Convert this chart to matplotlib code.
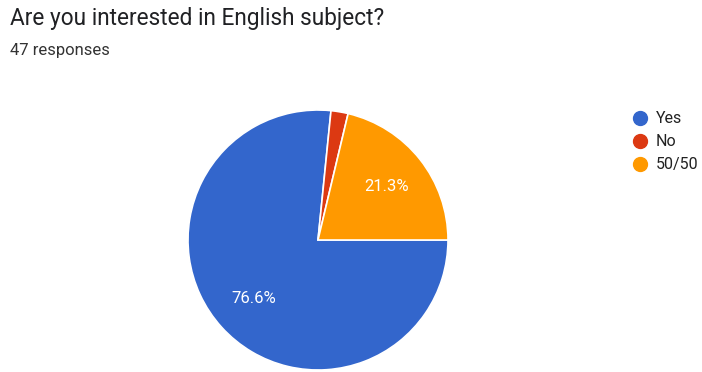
import matplotlib.pyplot as plt
from matplotlib.lines import Line2D

plt.rcParams["font.family"] = ["Roboto", "DejaVu Sans"]

LABELS = ["Yes", "No", "50/50"]
COUNTS = [36, 1, 10]
COLOURS = ["#3366CC", "#DC3912", "#FF9900"]
TITLE = "Are you interested in English subject?"
SUBTITLE = "47 responses"

W, H = 702, 372
fig = plt.figure(figsize=(W / 100, H / 100), dpi=100)
fig.patch.set_facecolor("white")

# pie axes: centre (318, 240) px, radius 130 px
cx, cy, r = 318, 240, 130
ax = fig.add_axes([(cx - r) / W, (H - cy - r) / H, 2 * r / W, 2 * r / H])


def fmt(p):
    return f"{p:.1f}%" if p > 5 else ""


wedges, texts, autotexts = ax.pie(
    COUNTS, colors=COLOURS, startangle=0, counterclock=False,
    autopct=fmt, pctdistance=0.67, radius=1,
    wedgeprops=dict(edgecolor="white", linewidth=1.2),
    textprops=dict(color="white", fontsize=12),
)
ax.set_xlim(-1.0, 1.0)
ax.set_ylim(-1.0, 1.0)
ax.set_aspect("equal")
ax.axis("off")

fig.text(10 / W, 1 - 19 / H, TITLE, fontsize=16.3, color="#202124", va="center", ha="left")
fig.text(10 / W, 1 - 51 / H, SUBTITLE, fontsize=12, color="#333333", va="center", ha="left")

handles = [Line2D([], [], marker="o", linestyle="", markersize=10,
                  markerfacecolor=c, markeredgecolor=c) for c in COLOURS]
fig.legend(handles, LABELS, loc="upper left", bbox_to_anchor=(616 / W, 1 - 97 / H),
           frameon=False, fontsize=11.5, handletextpad=0.4, labelspacing=0.5,
           handlelength=1.2, labelcolor="#222222")

fig.savefig("out.png", dpi=100)
